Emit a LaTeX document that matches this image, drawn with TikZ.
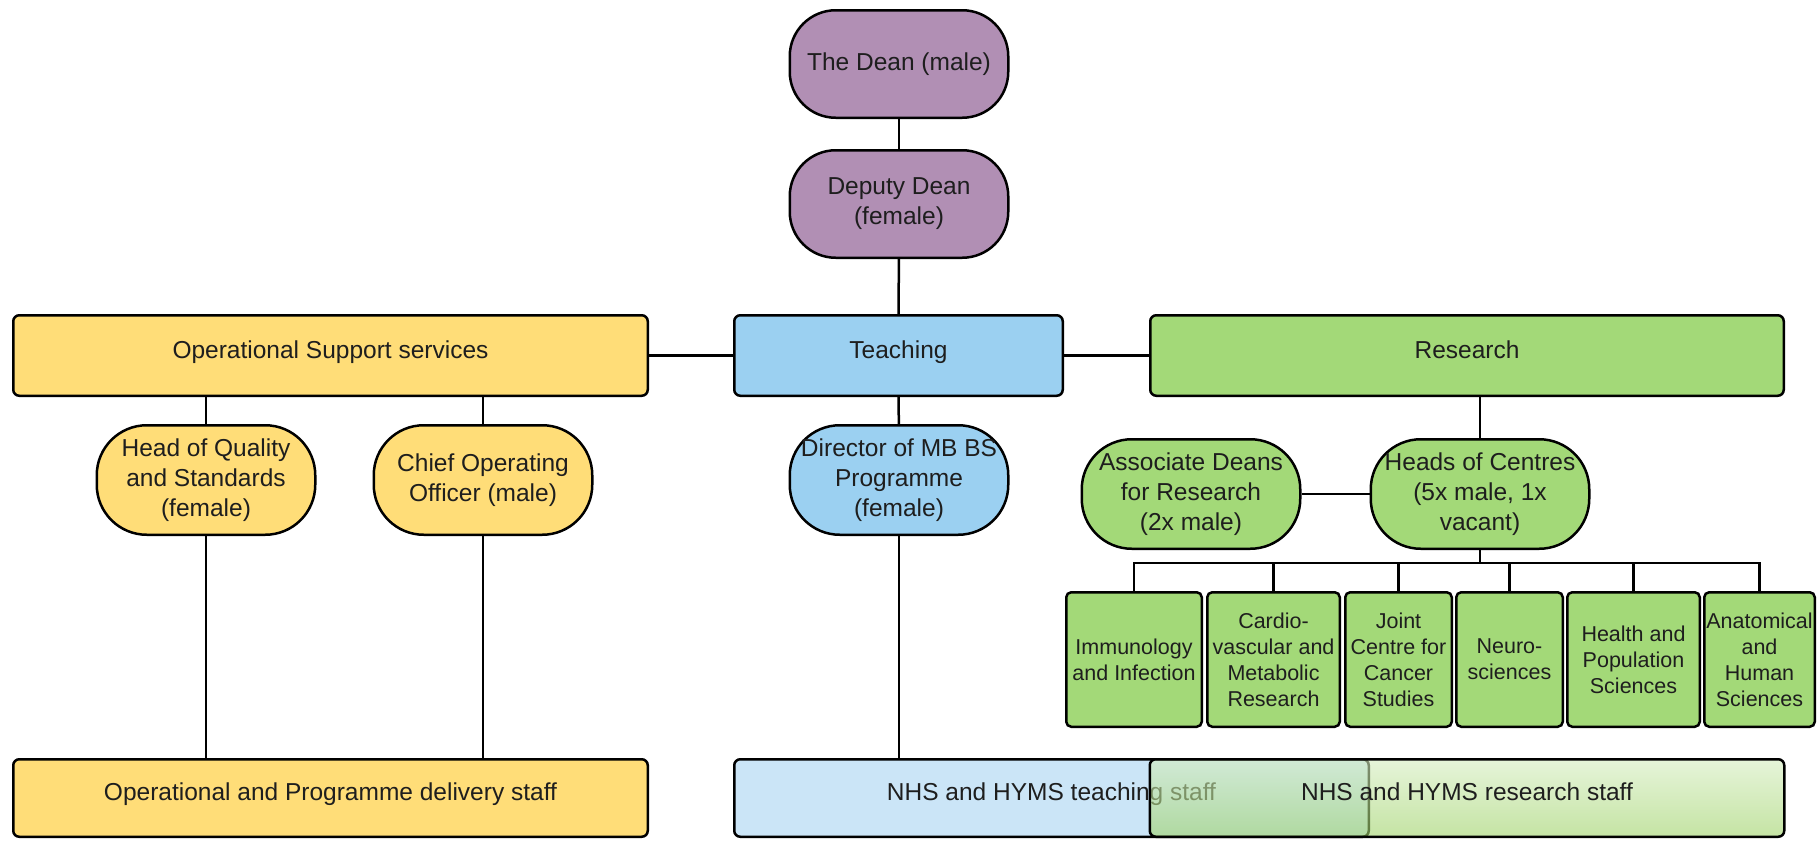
\documentclass[tikz,border=0pt]{standalone}
\usepackage{fontspec}
\setmainfont{Liberation Sans}
\usepackage{tikz}
\usetikzlibrary{positioning,calc}
\definecolor{lila}{HTML}{B18FB4}
\definecolor{gelb}{HTML}{FFDD78}
\definecolor{blau}{HTML}{9BD0F1}
\definecolor{gruen}{HTML}{A3D978}
\definecolor{hellblau}{HTML}{CBE5F7}
\definecolor{gruenoben}{RGB}{213,237,192}
\definecolor{gruenunten}{RGB}{158,210,103}
\definecolor{schrift}{HTML}{1E1E1E}

\begin{document}
\begin{tikzpicture}[x=1pt,y=-1pt,line width=2.5pt,text=schrift,
  pille/.style={draw,rounded corners=46pt,minimum width=218.5pt,minimum height=107.5pt,
    align=center,inner sep=0pt,font=\fontsize{24.5}{30}\selectfont},
  person/.style={pille,rounded corners=50pt,minimum height=109.5pt},
  balken/.style={draw,rounded corners=6pt,minimum height=80.5pt,align=center,
    inner sep=0pt,text height=0.72em,text depth=0.21em,font=\fontsize{24.5}{30}\selectfont},
  zentrum/.style={draw,rounded corners=5pt,minimum height=134.5pt,align=center,
    inner sep=0pt,font=\fontsize{21.5}{26}\selectfont},
  personal/.style={balken,minimum width=634.5pt,minimum height=77.5pt}]
%Bildgroesse = Pixel der Vorlage (1818 x 841), y zeigt nach unten
\useasboundingbox (0,0) rectangle (1818,841);
%Dekanat
\node[pille,fill=lila] (dean) at (899,64) {The Dean (male)};
\node[pille,fill=lila,below=30pt of dean] (deputy) {Deputy Dean\\(female)};
%mittlere Zeile
\node[balken,fill=blau,minimum width=328.5pt] (teaching) at (898.5,355.5) {Teaching};
\node[balken,fill=gelb,minimum width=634.5pt] (ops) at (330.5,355.5) {Operational Support services};
\node[balken,fill=gruen,minimum width=633.5pt] (research) at (1467,355.5) {Research};
%Personen
\node[person,fill=gelb] (hoq) at (206,480) {Head of Quality\\and Standards\\(female)};
\node[person,fill=gelb] (coo) at (483,480) {Chief Operating\\Officer (male)};
\node[person,fill=blau] (director) at (899,480) {Director of MB BS\\Programme\\(female)};
\node[person,fill=gruen] (assoc) at (1191,494) {Associate Deans\\for Research\\(2x male)};
\node[person,fill=gruen] (heads) at (1480,494) {Heads of Centres\\(5x male, 1x\\vacant)};
%Zentren
\node[zentrum,fill=gruen,minimum width=135.5pt] (imm) at (1134,659.5) {Immunology\\and Infection};
\node[zentrum,fill=gruen,minimum width=132.5pt] (cardio) at (1273.5,659.5) {Cardio-\\vascular and\\Metabolic\\Research};
\node[zentrum,fill=gruen,minimum width=106.5pt] (joint) at (1398.5,659.5) {Joint\\Centre for\\Cancer\\Studies};
\node[zentrum,fill=gruen,minimum width=106.5pt] (neuro) at (1509.5,659.5) {Neuro-\\sciences};
\node[zentrum,fill=gruen,minimum width=132.5pt] (health) at (1633.5,659.5) {Health and\\Population\\Sciences};
\node[zentrum,fill=gruen,minimum width=110.5pt] (anat) at (1759.5,659.5) {Anatomical\\and\\Human\\Sciences};
%Personal unten (Forschung halb durchsichtig ueber Lehre)
\node[personal,fill=gelb] (opsstaff) at (330.5,798) {Operational and Programme delivery staff};
\node[personal,fill=hellblau] (teachstaff) at (1051.5,798) {NHS and HYMS teaching staff};
\node[personal,top color=gruenoben,bottom color=gruenunten,fill opacity=0.6,text opacity=1] (resstaff) at (1467,798) {NHS and HYMS research staff};
%Verbindungen
\draw (dean) -- (deputy);
\draw (deputy) -- (teaching);
\draw (ops) -- (teaching);
\draw (teaching) -- (research);
\draw (teaching) -- (director);
\draw (director) -- (director |- teachstaff.north);
\draw (hoq) -- (hoq |- ops.south);
\draw (coo) -- (coo |- ops.south);
\draw (hoq) -- (hoq |- opsstaff.north);
\draw (coo) -- (coo |- opsstaff.north);
\draw (heads) -- (heads |- research.south);
\draw (assoc) -- (heads);
\coordinate[below=13pt of heads] (bus);
\draw (heads) -- (bus);
\foreach \z in {imm,cardio,joint,neuro,health,anat}{
\draw (bus) -| (\z);
}
\end{tikzpicture}
\end{document}
